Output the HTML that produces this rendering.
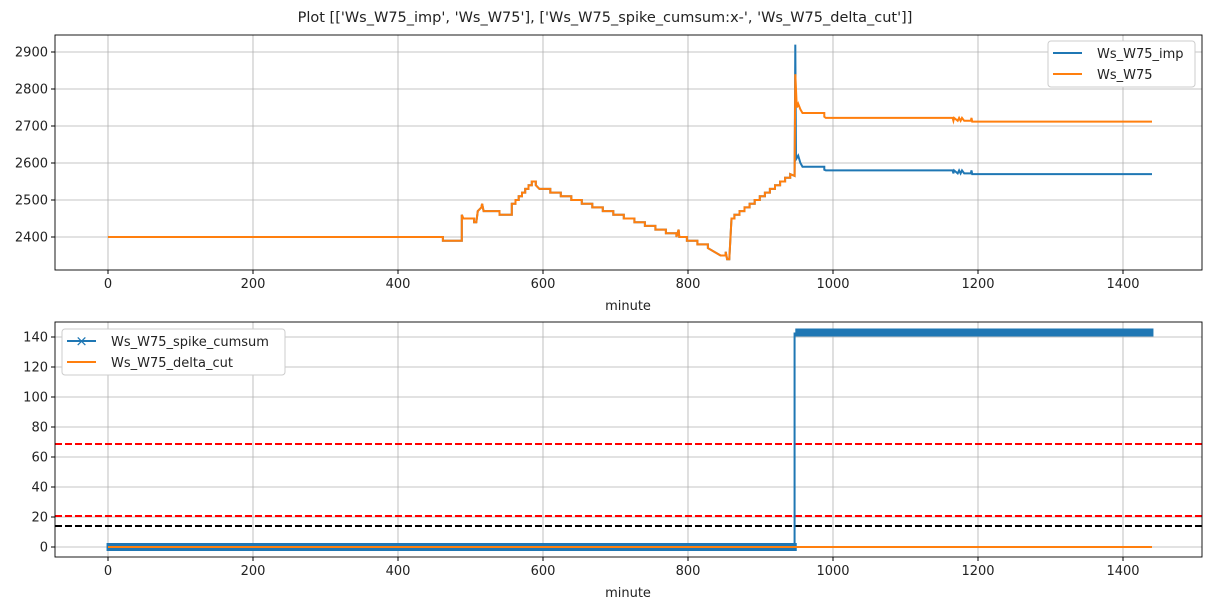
<!DOCTYPE html>
<html><head><meta charset="utf-8"><style>
body{margin:0;background:#fff;font-family:"Liberation Sans","DejaVu Sans",sans-serif;}
svg text{font-family:"DejaVu Sans","Liberation Sans",sans-serif;font-size:13px;fill:#222}
</style></head><body>
<svg id="s" width="1211" height="611" xmlns="http://www.w3.org/2000/svg"></svg>
<script>
const s=document.getElementById('s');let h='';
const X=m=>108+0.725*m;
const Yt=v=>237-(v-2400)*0.37;
const Yb=v=>547-v*1.5;
h+=`<text x="605" y="22" text-anchor="middle" style="font-size:14.5px">Plot [['Ws_W75_imp', 'Ws_W75'], ['Ws_W75_spike_cumsum:x-', 'Ws_W75_delta_cut']]</text>`;
function axes(top,bot,Y,ticks){
  let g='';
  for(let m=0;m<=1400;m+=200){let x=X(m);g+=`<line x1="${x}" y1="${top}" x2="${x}" y2="${bot}" stroke="#b0b0b0" stroke-width="0.8"/><line x1="${x}" y1="${bot}" x2="${x}" y2="${bot+4}" stroke="#000"/><text x="${x}" y="${bot+18}" text-anchor="middle">${m}</text>`;}
  for(const t of ticks){let y=Y(t);g+=`<line x1="55" y1="${y}" x2="1202" y2="${y}" stroke="#b0b0b0" stroke-width="0.8"/><line x1="51" y1="${y}" x2="55" y2="${y}" stroke="#000"/><text x="48" y="${y+4.5}" text-anchor="end">${t}</text>`;}
  g+=`<text x="628" y="${bot+40}" text-anchor="middle">minute</text>`;
  return g;
}
h+=axes(35,270,Yt,[2400,2500,2600,2700,2800,2900]);
h+=axes(322,557,Yb,[0,20,40,60,80,100,120,140]);
let p=[[0,2400],[462,2400],[462,2390],[488,2390],[488,2460],[490,2450],[505,2450],[505,2440],[508,2440],[510,2470],[515,2480],[516,2490],[518,2470],[540,2470],[540,2460],[557,2460],[557,2490]];
let v=2490;for(let m=562;m<=585;m+=4.5){p.push([m,v]);v+=10;p.push([m,v]);}
p.push([590,2550],[590,2540],[595,2530],[610,2530]);
v=2530;for(let m=610;m<=840;m+=14.5){p.push([m,v]);v-=10;p.push([m,v]);if(m>770&&m<790){p.push([m+3,v+20],[m+4,v]);}}
p.push([845,2350],[852,2350],[852,2360],[854,2340],[857,2340],[860,2450]);
v=2450;for(let m=864;m<=944;m+=7){p.push([m,v]);v+=10;p.push([m,v]);}
let pre=p.slice();
let o=pre.concat([[947,2565],[948,2840],[950,2750],[952,2760],[955,2745],[958,2735],[988,2735],[988,2725],[990,2722],[1165,2722],[1166,2714],[1167,2722],[1172,2714],[1174,2722],[1176,2714],[1178,2722],[1181,2714],[1190,2714],[1191,2722],[1192,2712],[1440,2712]]);
let b=pre.concat([[947,2565],[948,2920],[949,2610],[952,2620],[955,2600],[958,2590],[988,2590],[988,2582],[990,2580],[1165,2580],[1166,2572],[1167,2580],[1172,2572],[1174,2580],[1176,2572],[1178,2580],[1181,2572],[1190,2572],[1191,2580],[1192,2570],[1440,2570]]);
const pts=(a,Y)=>a.map(q=>X(q[0]).toFixed(1)+','+Y(q[1]).toFixed(1)).join(' ');
h+=`<polyline points="${pts(b,Yt)}" fill="none" stroke="#1f77b4" stroke-width="2"/>`;
h+=`<polyline points="${pts(o,Yt)}" fill="none" stroke="#ff7f0e" stroke-width="2"/>`;
h+=`<rect x="1048" y="41" width="147" height="46" rx="3" fill="#fff" stroke="#ccc"/><line x1="1053" y1="53" x2="1082" y2="53" stroke="#1f77b4" stroke-width="2"/><text x="1097" y="58">Ws_W75_imp</text><line x1="1053" y1="74" x2="1082" y2="74" stroke="#ff7f0e" stroke-width="2"/><text x="1097" y="79">Ws_W75</text>`;
h+=`<line x1="55" y1="444" x2="1202" y2="444" stroke="red" stroke-width="2" stroke-dasharray="7,3"/>`;
h+=`<line x1="55" y1="516" x2="1202" y2="516" stroke="red" stroke-width="2" stroke-dasharray="7,3"/>`;
h+=`<line x1="55" y1="526" x2="1202" y2="526" stroke="#000" stroke-width="2" stroke-dasharray="7,3"/>`;
h+=`<rect x="${X(-2)}" y="543" width="${X(950)-X(-2)}" height="8" fill="#1f77b4"/>`;
h+=`<rect x="${X(948)}" y="328.5" width="${X(1442)-X(948)}" height="8" fill="#1f77b4"/>`;
h+=`<line x1="${X(947)}" y1="547" x2="${X(947)}" y2="332.5" stroke="#1f77b4" stroke-width="2"/>`;
h+=`<line x1="108" y1="547" x2="${X(1440)}" y2="547" stroke="#ff7f0e" stroke-width="2"/>`;
h+=`<rect x="62" y="329" width="223" height="46" rx="3" fill="#fff" stroke="#ccc"/><line x1="67" y1="341" x2="96" y2="341" stroke="#1f77b4" stroke-width="2"/><text x="81.5" y="346" text-anchor="middle" style="fill:#1f77b4;font-size:15px">×</text><text x="111" y="346">Ws_W75_spike_cumsum</text><line x1="67" y1="362" x2="96" y2="362" stroke="#ff7f0e" stroke-width="2"/><text x="111" y="367">Ws_W75_delta_cut</text>`;
h+=`<rect x="55" y="35" width="1147" height="235" fill="none" stroke="#000" stroke-width="0.9"/><rect x="55" y="322" width="1147" height="235" fill="none" stroke="#000" stroke-width="0.9"/>`;
s.innerHTML=h;
</script>
</body></html>
